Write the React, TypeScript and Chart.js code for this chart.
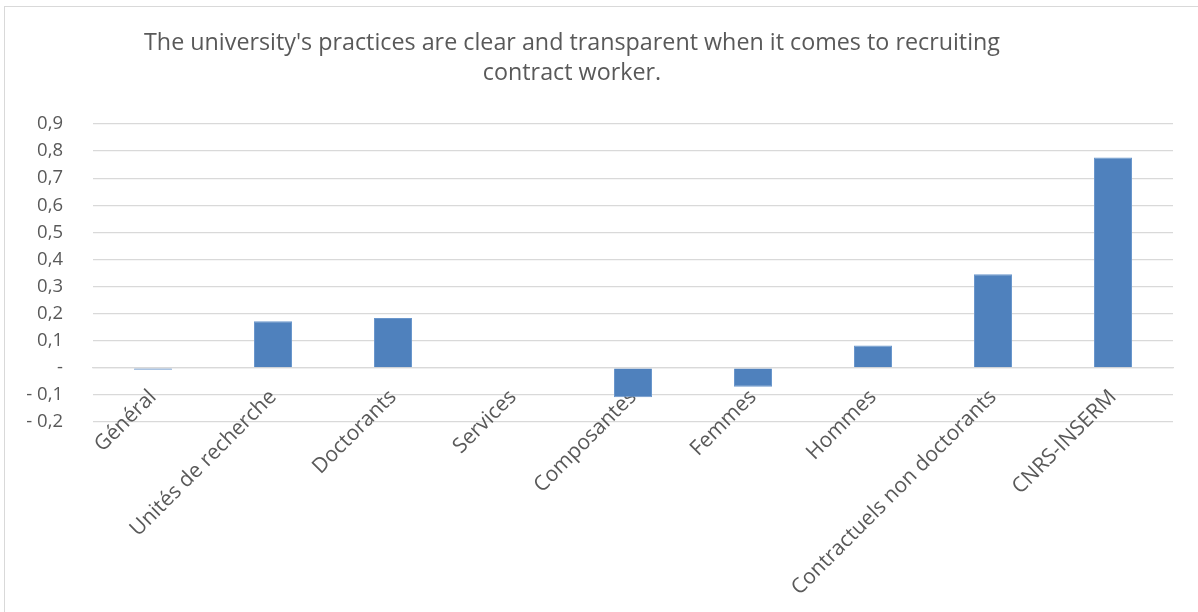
import React, { useEffect, useRef } from "react";
import { Chart, registerables } from "chart.js";

Chart.register(...registerables);

const titleLines = [
  "The university's practices are clear and transparent when it comes to recruiting",
  "contract worker.",
];

const categories = [
  "Général",
  "Unités de recherche",
  "Doctorants",
  "Services",
  "Composantes",
  "Femmes",
  "Hommes",
  "Contractuels non doctorants",
  "CNRS-INSERM",
];

const values = [-0.007, 0.172, 0.184, 0, -0.109, -0.07, 0.082, 0.345, 0.776];

const yMin = -0.2;
const yMax = 0.9;
const yStep = 0.1;

const FONT = "'Open Sans', 'DejaVu Sans', sans-serif";
const TEXT_COLOR = "#595959";
const GRID_COLOR = "#d9d9d9";
const BAR_COLOR = "#4f81bd";

function formatTick(v: number): string {
  if (Math.abs(v) < 1e-9) return "-";
  const s = Math.abs(v).toFixed(1).replace(".", ",");
  return v < 0 ? "- " + s : s;
}

const titlePlugin = {
  id: "customTitle",
  afterDraw(chart: any) {
    const ctx = chart.ctx;
    ctx.save();
    ctx.font = `23.3px ${FONT}`;
    ctx.fillStyle = TEXT_COLOR;
    ctx.textAlign = "center";
    ctx.textBaseline = "alphabetic";
    titleLines.forEach((line, i) => {
      ctx.fillText(line, 572, 50 + i * 30);
    });
    ctx.restore();
  },
};

export default function App() {
  const canvasRef = useRef<HTMLCanvasElement | null>(null);

  useEffect(() => {
    if (!canvasRef.current) return;
    const chart = new Chart(canvasRef.current, {
      type: "bar",
      data: {
        labels: categories,
        datasets: [
          {
            data: values,
            backgroundColor: BAR_COLOR,
            borderColor: "#6b97cc",
            borderWidth: 1,
            categoryPercentage: 1,
            barPercentage: 0.317,
          },
        ],
      },
      options: {
        animation: false,
        responsive: false,
        maintainAspectRatio: false,
        layout: {
          padding: { left: 4, right: 25, top: 124, bottom: 190 },
        },
        plugins: {
          legend: { display: false },
          title: { display: false },
          tooltip: { enabled: false },
        },
        scales: {
          x: {
            position: { y: 0 } as any,
            grid: { display: false, drawTicks: false },
            border: { display: true, color: GRID_COLOR, width: 1.3 },
            ticks: {
              autoSkip: false,
              minRotation: 45,
              maxRotation: 45,
              padding: 17,
              color: TEXT_COLOR,
              font: { family: FONT, size: 21 },
            },
          },
          y: {
            min: yMin,
            max: yMax,
            afterFit: (scale: any) => {
              scale.width = 89;
            },
            grid: { color: GRID_COLOR, lineWidth: 1.3, drawTicks: false },
            border: { display: false },
            ticks: {
              stepSize: yStep,
              padding: 30,
              color: TEXT_COLOR,
              font: { family: FONT, size: 18.5 },
              callback: (v: any) => formatTick(Number(v)),
            },
          },
        },
      },
      plugins: [titlePlugin],
    });
    return () => chart.destroy();
  }, []);

  return (
    <div
      style={{
        position: "fixed",
        left: 0,
        top: 0,
        width: 1198,
        height: 612,
        background: "#ffffff",
        overflow: "hidden",
      }}
    >
      <div
        style={{
          position: "absolute",
          left: 4,
          top: 6,
          width: 1210,
          height: 620,
          border: "1px solid #d9d9d9",
          boxSizing: "border-box",
        }}
      />
      <canvas
        ref={canvasRef}
        width={1198}
        height={612}
        style={{ position: "absolute", left: 0, top: 0, width: 1198, height: 612 }}
      />
    </div>
  );
}
